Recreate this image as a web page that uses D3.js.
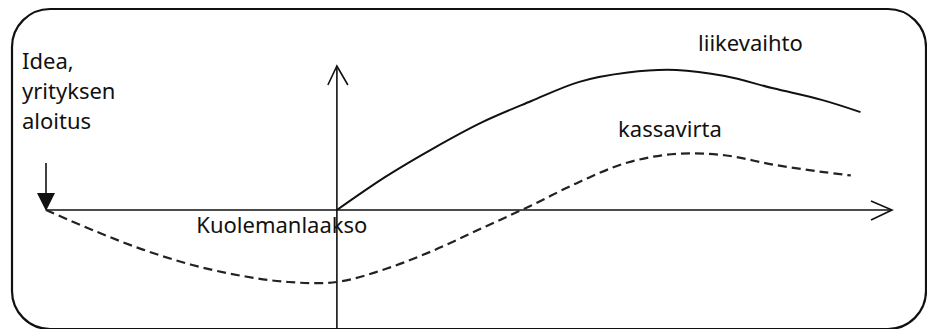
<!DOCTYPE html>
<html>
<head>
<meta charset="utf-8">
<script src="https://cdn.jsdelivr.net/npm/d3@7/dist/d3.min.js"></script>
<style>
  html, body { margin: 0; padding: 0; background: #fff; }
  text { font-family: "Noto Sans", "Open Sans", sans-serif; fill: #111; }
</style>
</head>
<body>
<div id="chart"></div>
<script>
// time (x) and value (y) in arbitrary units, 0/0 = where the axes cross
const startT = -6;
const endT = 11.45;
const topV = 10;
const bottomV = -8.5;

const liikevaihtoT = [0, 1, 2, 3, 4, 5, 6, 7, 8, 9, 10, 10.8];
const liikevaihto = [0, 2.3, 4.3, 6.1, 7.55, 8.9, 9.55, 9.72, 9.3, 8.45, 7.65, 6.8];

const kassavirtaT = [-6, -5, -4, -3, -2, -1, 0, 1, 2, 3, 4, 5, 6, 7, 8, 9, 10, 10.6];
const kassavirta = [0, -1.45, -2.75, -3.8, -4.55, -5.0, -5.0, -4.1, -2.8, -1.25, 0.3, 1.95, 3.3, 3.9, 3.8, 3.15, 2.65, 2.4];

const labels = [
  { text: "liikevaihto", t: 7.45, v: 11.05 },
  { text: "kassavirta", t: 5.8, v: 5.1 },
  { text: "Kuolemanlaakso", t: -2.9, v: -1.6 }
];
const ideaLines = ["Idea,", "yrityksen", "aloitus"];

(() => {
  const width = 927, height = 329;
  const svg = d3.select("#chart").append("svg")
    .attr("width", width)
    .attr("height", height);

  const x = d3.scaleLinear().domain([startT, endT]).range([46, 892]);
  const y = d3.scaleLinear().domain([0, topV]).range([210, 66]);

  // frame
  svg.append("rect")
    .attr("x", 12).attr("y", 9)
    .attr("width", 914).attr("height", 320)
    .attr("rx", 38).attr("ry", 38)
    .attr("fill", "none")
    .attr("stroke", "#111")
    .attr("stroke-width", 2.2);

  const ax = svg.append("g")
    .attr("stroke", "#111")
    .attr("stroke-width", 1.6)
    .attr("fill", "none");

  // horizontal axis + open arrow
  ax.append("line")
    .attr("x1", x(startT)).attr("y1", y(0))
    .attr("x2", x(endT)).attr("y2", y(0));
  ax.append("path")
    .attr("d", `M${x(endT) - 21},${y(0) - 9}L${x(endT)},${y(0)}L${x(endT) - 21},${y(0) + 10}`);

  // vertical axis + open arrow
  ax.append("line")
    .attr("x1", x(0)).attr("y1", y(bottomV))
    .attr("x2", x(0)).attr("y2", y(topV));
  ax.append("path")
    .attr("d", `M${x(0) - 9},${y(topV) + 19}L${x(0)},${y(topV)}L${x(0) + 11},${y(topV) + 19}`);

  // start arrow pointing down at the start point
  ax.append("line")
    .attr("x1", x(startT)).attr("y1", y(0) - 47)
    .attr("x2", x(startT)).attr("y2", y(0) - 14);
  svg.append("path")
    .attr("d", `M${x(startT) - 9},${y(0) - 17}L${x(startT) + 9},${y(0) - 17}L${x(startT)},${y(0) + 1}Z`)
    .attr("fill", "#111");

  const line = d3.line()
    .x(d => x(d[0]))
    .y(d => y(d[1]))
    .curve(d3.curveCatmullRom.alpha(0.5));

  svg.append("path")
    .datum(d3.zip(liikevaihtoT, liikevaihto))
    .attr("d", line)
    .attr("fill", "none")
    .attr("stroke", "#111")
    .attr("stroke-width", 2);

  svg.append("path")
    .datum(d3.zip(kassavirtaT, kassavirta))
    .attr("d", line)
    .attr("fill", "none")
    .attr("stroke", "#222")
    .attr("stroke-width", 2.2)
    .attr("stroke-dasharray", "9,5");

  svg.selectAll("text.lbl")
    .data(labels)
    .enter().append("text")
      .attr("class", "lbl")
      .attr("x", d => x(d.t))
      .attr("y", d => y(d.v))
      .attr("font-size", 22)
      .text(d => d.text);

  svg.append("text")
    .attr("x", 22)
    .attr("y", 69)
    .attr("font-size", 22)
    .selectAll("tspan")
    .data(ideaLines)
    .enter().append("tspan")
      .attr("x", 22)
      .attr("dy", (d, i) => i === 0 ? 0 : 30)
      .text(d => d);
})();
</script>
</body>
</html>
